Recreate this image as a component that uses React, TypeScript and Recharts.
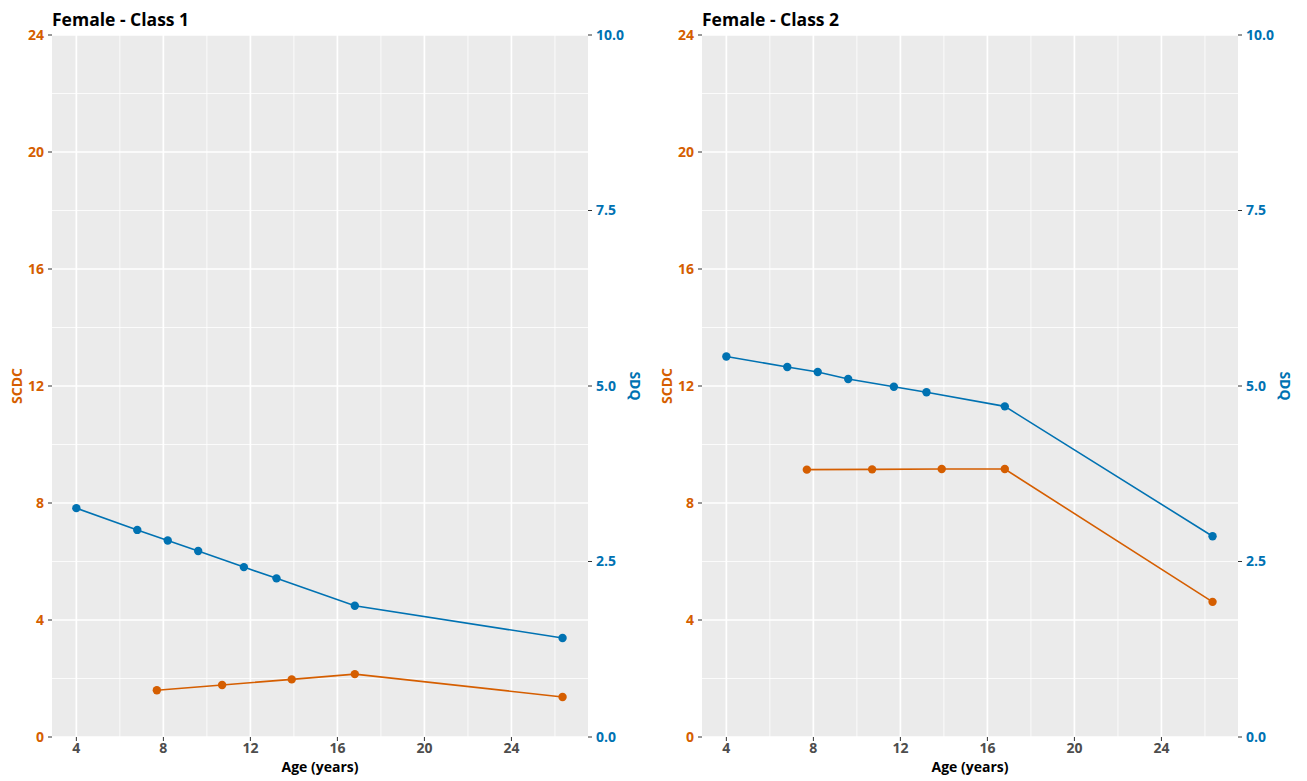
import React from 'react';
import { LineChart, Line, XAxis, YAxis, CartesianGrid } from 'recharts';

const AGES_SDQ = [4, 6.8, 8.2, 9.6, 11.7, 13.2, 16.8, 26.35];
const AGES_SCDC = [7.7, 10.7, 13.9, 16.8, 26.35];

const CLASS1_SDQ = [3.26, 2.95, 2.8, 2.65, 2.42, 2.26, 1.87, 1.41];
const CLASS1_SCDC = [1.6, 1.78, 1.97, 2.15, 1.37];
const CLASS2_SDQ = [5.42, 5.27, 5.2, 5.1, 4.99, 4.91, 4.71, 2.86];
const CLASS2_SCDC = [9.14, 9.15, 9.16, 9.16, 4.62];

const PANEL_TITLES = ['Female - Class 1', 'Female - Class 2'];
const X_TICKS = [4, 8, 12, 16, 20, 24];
const X_MINOR = [6, 10, 14, 18, 22, 26];
const SCDC_TICKS = [0, 4, 8, 12, 16, 20, 24];
const SCDC_MINOR = [2, 6, 10, 14, 18, 22];
const SDQ_TICKS = [0, 2.5, 5, 7.5, 10];
const X_DOMAIN = [2.88, 27.52];

const ORANGE = '#D55E00';
const BLUE = '#0072B2';
const FONT = '"Open Sans", "Noto Sans", sans-serif';

const toSeries = (ages: number[], vals: number[]) => ages.map((age, i) => ({ age, value: vals[i] }));

const LeftTitle = (props: any) => {
  const vb = props.viewBox || {};
  const cx = vb.x + 16;
  const cy = vb.y + vb.height / 2;
  return (
    <text x={cx} y={cy} transform={`rotate(-90, ${cx}, ${cy})`} textAnchor="middle" dominantBaseline="central"
      fill={ORANGE} fontSize={14} fontWeight={700} fontFamily={FONT}>SCDC</text>
  );
};

const RightTitle = (props: any) => {
  const vb = props.viewBox || {};
  const cx = vb.x + 47;
  const cy = vb.y + vb.height / 2;
  return (
    <text x={cx} y={cy} transform={`rotate(90, ${cx}, ${cy})`} textAnchor="middle" dominantBaseline="central"
      fill={BLUE} fontSize={14} fontWeight={700} fontFamily={FONT}>SDQ</text>
  );
};

const BottomTitle = (props: any) => {
  const vb = props.viewBox || {};
  const cx = vb.x + vb.width / 2;
  return (
    <text x={cx} y={vb.y + 35} textAnchor="middle" fill="#000" fontSize={14} fontWeight={700} fontFamily={FONT}>Age (years)</text>
  );
};

function Panel({ title, sdq, scdc, left }: { title: string; sdq: number[]; scdc: number[]; left: number }) {
  const sdqData = toSeries(AGES_SDQ, sdq);
  const scdcData = toSeries(AGES_SCDC, scdc);
  return (
    <div style={{ position: 'absolute', left, top: 0, width: 650, height: 781 }}>
      <div style={{ position: 'absolute', left: 52, top: 11, fontFamily: FONT, fontWeight: 700, fontSize: 17.5, lineHeight: '17px', color: '#000', whiteSpace: 'nowrap' }}>{title}</div>
      <LineChart width={650} height={781} margin={{ top: 35, right: 0, bottom: 0, left: 0 }}>
        <CartesianGrid yAxisId="scdc" xAxisId="age" fill="#EBEBEB" stroke="#FFFFFF" strokeWidth={0.8}
          horizontalValues={SCDC_MINOR} verticalValues={X_MINOR} />
        <CartesianGrid yAxisId="scdc" xAxisId="age" stroke="#FFFFFF" strokeWidth={1.7}
          horizontalValues={SCDC_TICKS} verticalValues={X_TICKS} />
        <XAxis xAxisId="age" dataKey="age" type="number" domain={X_DOMAIN} ticks={X_TICKS} allowDataOverflow
          height={44} axisLine={false} tickSize={4} tickMargin={2} tickLine={{ stroke: '#333333' }}
          tick={{ fill: '#4D4D4D', fontSize: 14, fontWeight: 700, fontFamily: FONT }} label={<BottomTitle />} />
        <YAxis yAxisId="scdc" orientation="left" type="number" domain={[0, 24]} ticks={SCDC_TICKS} allowDataOverflow
          width={52} axisLine={false} tickSize={4} tickMargin={4} tickLine={{ stroke: '#333333' }}
          tick={{ fill: ORANGE, fontSize: 14, fontWeight: 700, fontFamily: FONT }} label={<LeftTitle />} />
        <YAxis yAxisId="sdq" orientation="right" type="number" domain={[0, 10]} ticks={SDQ_TICKS} allowDataOverflow
          width={62} axisLine={false} tickSize={4} tickMargin={4} tickLine={{ stroke: '#333333' }}
          tickFormatter={(v: number) => v.toFixed(1)}
          tick={{ fill: BLUE, fontSize: 14, fontWeight: 700, fontFamily: FONT }} label={<RightTitle />} />
        <Line xAxisId="age" yAxisId="sdq" data={sdqData} dataKey="value" type="linear" stroke={BLUE} strokeWidth={1.6}
          dot={{ r: 4.2, fill: BLUE, stroke: BLUE, strokeWidth: 0 }} activeDot={false} isAnimationActive={false} />
        <Line xAxisId="age" yAxisId="scdc" data={scdcData} dataKey="value" type="linear" stroke={ORANGE} strokeWidth={1.6}
          dot={{ r: 4.2, fill: ORANGE, stroke: ORANGE, strokeWidth: 0 }} activeDot={false} isAnimationActive={false} />
      </LineChart>
    </div>
  );
}

export default function App() {
  return (
    <div style={{ position: 'absolute', left: 0, top: 0, width: 1307, height: 781, background: '#FFFFFF' }}>
      <Panel title={PANEL_TITLES[0]} sdq={CLASS1_SDQ} scdc={CLASS1_SCDC} left={0} />
      <Panel title={PANEL_TITLES[1]} sdq={CLASS2_SDQ} scdc={CLASS2_SCDC} left={650} />
    </div>
  );
}
